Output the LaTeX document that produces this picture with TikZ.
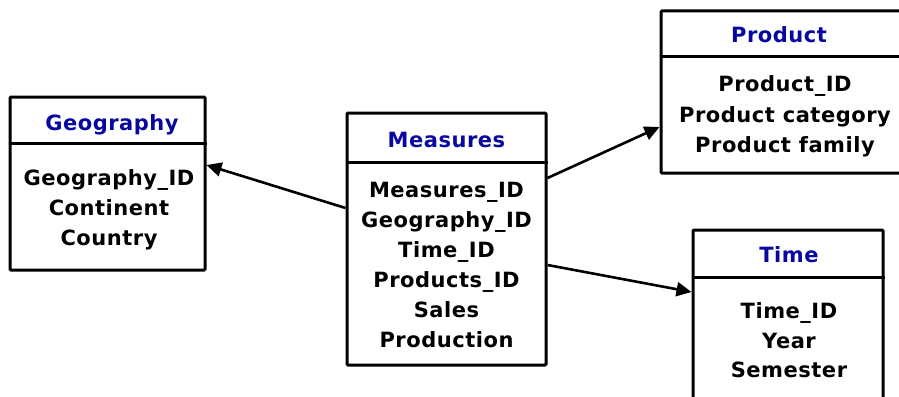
\documentclass[tikz,border=0pt]{standalone}
\usepackage{fontspec}
\setmainfont[LetterSpace=2.5]{DejaVu Sans}
\usetikzlibrary{arrows.meta}
\definecolor{titleblue}{RGB}{8,8,160}
\tikzset{
  tbl/.style={draw=black, line width=3pt, rounded corners=1pt, fill=white, inner sep=0pt},
  sep/.style={draw=black, line width=3pt},
  ttl/.style={anchor=base, inner sep=0pt, text=titleblue, font=\fontsize{21}{24}\selectfont\bfseries},
  fld/.style={anchor=base, inner sep=0pt, text=black, font=\fontsize{21}{24}\selectfont\bfseries},
  link/.style={draw=black, line width=2.6pt, -{Triangle[length=15pt,width=14pt]}}
}
\begin{document}
\begin{tikzpicture}[x=1pt,y=-1pt]
\clip (0,0) rectangle (899,396);
\fill[white] (0,0) rectangle (899,396);

% Geography table
\node[tbl, minimum width=195pt, minimum height=173pt] (geo) at (107.5,183.5) {};
\draw[sep] (geo.west |- 0,143) -- (geo.east |- 0,143);
\node[ttl] (geoT) at (112,130) {Geography};
\node[fld] (geo1) at (109,185) {Geography\_ID};
\node[fld] (geo2) at (109,215) {Continent};
\node[fld] (geo3) at (109,245) {Country};

% Measures table
\node[tbl, minimum width=199pt, minimum height=252pt] (meas) at (446.5,239) {};
\draw[sep] (meas.west |- 0,162) -- (meas.east |- 0,162);
\node[ttl] (measT) at (446.5,147) {Measures};
\node[fld] (meas1) at (446.5,197) {Measures\_ID};
\node[fld] (meas2) at (446.5,227) {Geography\_ID};
\node[fld] (meas3) at (446.5,257) {Time\_ID};
\node[fld] (meas4) at (446.5,287) {Products\_ID};
\node[fld] (meas5) at (446.5,317) {Sales};
\node[fld] (meas6) at (446.5,347) {Production};

% Product table (runs past the right edge)
\node[tbl, minimum width=248pt, minimum height=162pt] (prod) at (785,92) {};
\draw[sep] (prod.west |- 0,57) -- (prod.east |- 0,57);
\node[ttl] (prodT) at (779,43) {Product};
\node[fld] (prod1) at (785,92) {Product\_ID};
\node[fld] (prod2) at (785,122) {Product category};
\node[fld] (prod3) at (785,152) {Product family};

% Time table (runs past the bottom edge)
\node[tbl, minimum width=190pt, minimum height=190pt] (time) at (788,325) {};
\draw[sep] (time.west |- 0,277) -- (time.east |- 0,277);
\node[ttl] (timeT) at (789,262) {Time};
\node[fld] (time1) at (789,318) {Time\_ID};
\node[fld] (time2) at (789,348) {Year};
\node[fld] (time3) at (789,377) {Semester};

% Links from the fact table to the dimensions
\draw[link] ([yshift=31pt]meas.west) -- ([yshift=18.5pt]geo.east);
\draw[link] ([yshift=61pt]meas.east) -- ([yshift=-35pt]prod.west);
\draw[link] ([yshift=-26pt]meas.east) -- ([yshift=33pt]time.west);
\end{tikzpicture}
\end{document}
